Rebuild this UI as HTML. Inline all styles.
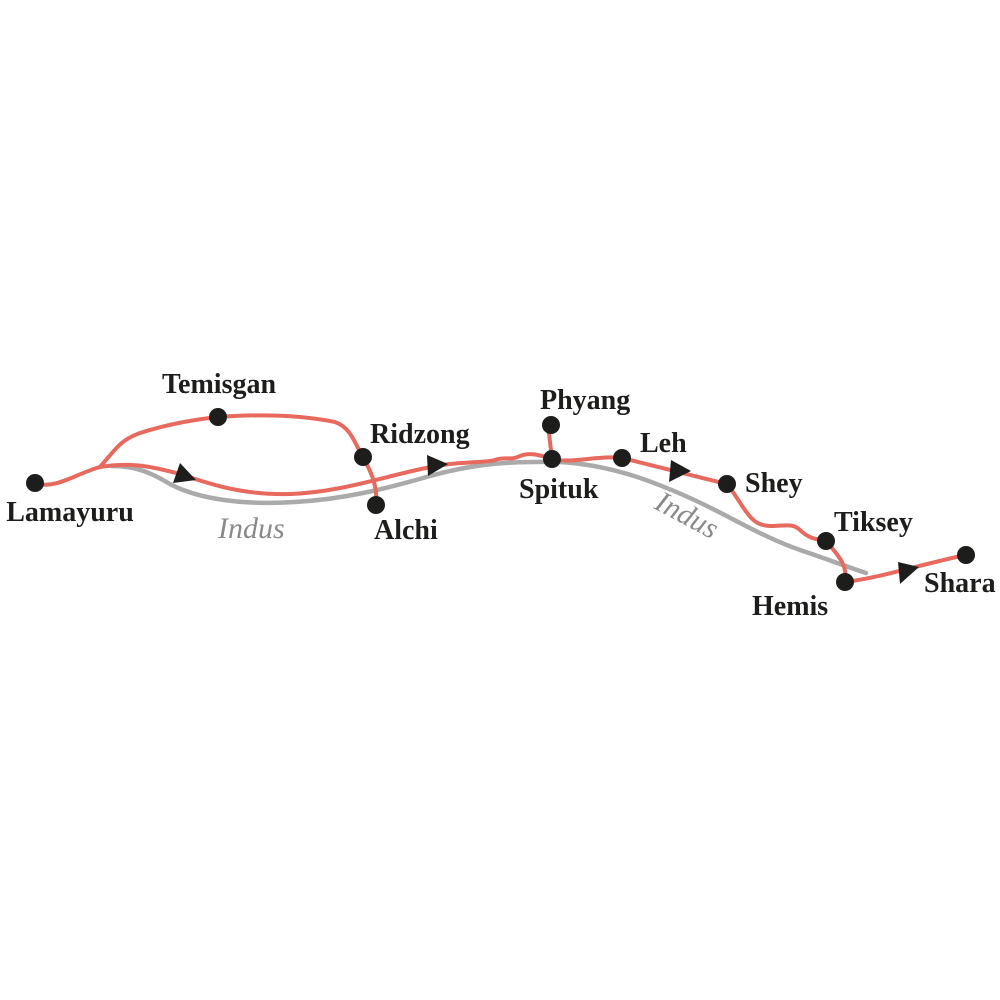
<!DOCTYPE html>
<html><head><meta charset="utf-8"><style>
html,body{margin:0;padding:0;background:#fff;}
svg{display:block;}
.l{font-family:"Liberation Serif",serif;font-size:28px;font-weight:bold;fill:#1d1d1b;}
.i{font-family:"Liberation Serif",serif;font-style:italic;font-size:30px;fill:#8a8a8a;}
</style></head><body>
<svg width="1000" height="1000" viewBox="0 0 1000 1000" xmlns="http://www.w3.org/2000/svg">
<!-- Indus -->
<path d="M112,466 C135,466 150,472 170,484 C200,500 245,505 295,502 C345,499 385,489 430,476 C470,465 500,461 560,462 C610,465 650,480 690,498 C730,516 760,536 800,550 C830,560 850,568 866,573" fill="none" stroke="#aaaaaa" stroke-width="4.5" stroke-linecap="round"/>
<!-- red route -->
<g fill="none" stroke="#e8695e" stroke-width="4" stroke-linecap="round" stroke-linejoin="round">
<path d="M35,483 C55,490 75,474 100,467 C115,450 120,440 140,433 C165,425 190,420 218,417 C260,414 300,415 335,422 C352,428 355,445 363,457 C370,470 378,485 376,505"/>
<path d="M100,467 C130,462 150,466 180,474 C215,486 245,495 290,494 C350,492 400,470 450,464 C470,462 490,462 495,460 C505,456 510,461 520,456 C530,452 540,455 552,459 C570,464 600,455 622,458 C650,465 690,475 727,484 C740,500 748,520 760,524 C775,530 790,520 800,530 C808,538 815,539 826,541 C838,555 848,565 845,582 C880,578 930,562 966,555"/>
<path d="M548,425 L552,459"/>
</g>
<!-- arrows -->
<g fill="#1d1d1b">
<polygon points="180,463 196,480 173,483"/>
<polygon points="427,455 448,464 428,476"/>
<polygon points="671,460 691,471 669,482"/>
<polygon points="898,562 919,567 900,584"/>
</g>
<!-- dots -->
<g fill="#1d1d1b">
<circle cx="35" cy="483" r="9"/><circle cx="218" cy="417" r="9"/><circle cx="363" cy="457" r="9"/><circle cx="376" cy="505" r="9"/>
<circle cx="551" cy="425" r="9"/><circle cx="552" cy="459" r="9"/><circle cx="622" cy="458" r="9"/><circle cx="727" cy="484" r="9"/>
<circle cx="826" cy="541" r="9"/><circle cx="845" cy="582" r="9"/><circle cx="966" cy="555" r="9"/>
</g>
<text class="l" x="219" y="393" text-anchor="middle">Temisgan</text>
<text class="l" x="70" y="521" text-anchor="middle">Lamayuru</text>
<text class="l" x="370" y="443">Ridzong</text>
<text class="l" x="374" y="539">Alchi</text>
<text class="l" x="540" y="409">Phyang</text>
<text class="l" x="519" y="498">Spituk</text>
<text class="l" x="640" y="452">Leh</text>
<text class="l" x="745" y="492">Shey</text>
<text class="l" x="834" y="531">Tiksey</text>
<text class="l" x="752" y="615">Hemis</text>
<text class="l" x="924" y="592">Shara</text>
<text class="i" x="218" y="538">Indus</text>
<text class="i" x="653" y="508" transform="rotate(28 653 508)">Indus</text>
</svg>
</body></html>
